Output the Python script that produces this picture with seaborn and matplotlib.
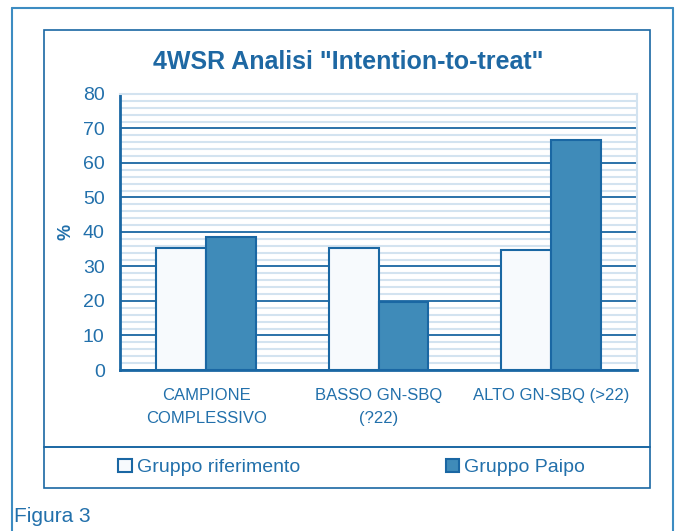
import pandas as pd
import seaborn as sns
import matplotlib.pyplot as plt
from matplotlib.patches import Rectangle
from matplotlib.lines import Line2D

# Data
categories = ["CAMPIONE\nCOMPLESSIVO", "BASSO GN-SBQ\n(?22)", "ALTO GN-SBQ (>22)"]
groups = ["Gruppo riferimento", "Gruppo Paipo"]
riferimento = [35.4, 35.4, 34.8]
paipo = [38.6, 19.7, 66.7]

df = pd.DataFrame({
    "categoria": categories * 2,
    "gruppo": [groups[0]] * 3 + [groups[1]] * 3,
    "valore": riferimento + paipo,
})

dark = "#1a67a3"
light = "#d3e3f0"
txt = "#2270ab"

sns.set_style("white")
plt.rcParams["font.family"] = ["Liberation Sans", "DejaVu Sans"]

fig = plt.figure(figsize=(6.83, 5.31), dpi=100)
ax = fig.add_axes([0.1757, 0.3032, 0.757, 0.5198])

# frame boxes around the chart
W, H = 683, 531
def fx(x): return x / W
def fy(y): return 1 - y / H
fig.add_artist(Line2D([fx(12), fx(12)], [fy(8), 0], color="#3d8cc2", lw=1.5))
fig.add_artist(Line2D([fx(673), fx(673)], [fy(8), 0], color="#3d8cc2", lw=1.5))
fig.add_artist(Line2D([fx(12), fx(673)], [fy(8), fy(8)], color="#3d8cc2", lw=1.5))
fig.add_artist(Rectangle((fx(44), fy(447)), fx(650) - fx(44), fy(30) - fy(447),
                         fill=False, ec=dark, lw=1.2))
fig.add_artist(Rectangle((fx(44), fy(488)), fx(650) - fx(44), fy(447) - fy(488),
                         fill=False, ec=dark, lw=1.2))

sns.barplot(data=df, x="categoria", y="valore", hue="gruppo",
            palette=["#f7fafd", "#3f8bb9"], saturation=1, width=0.58, gap=0,
            edgecolor=dark, linewidth=1.5, ax=ax, zorder=3)

ax.set_ylim(0, 80)
ax.set_xlim(-0.5, 2.5)
ax.set_yticks(range(0, 81, 10))
ax.set_yticks(range(0, 81, 2), minor=True)
ax.grid(axis="y", which="minor", color=light, lw=1.5, zorder=0)
ax.grid(axis="y", which="major", color=dark, lw=1.3, zorder=1)
ax.set_axisbelow(True)

ax.set_xticks([0, 1, 2])
ax.set_xticklabels(categories, fontsize=12, color=txt, linespacing=1.7)
ax.set_xticks([-0.5, 0.5, 1.5, 2.5], minor=True)
ax.tick_params(axis="x", which="major", length=0, pad=13)
ax.tick_params(axis="x", which="minor", length=5, width=1.5, color=dark, direction="out")
ax.tick_params(axis="y", which="major", labelsize=14, labelcolor=txt, length=6,
               width=1.5, color=dark, direction="out", pad=5)
ax.tick_params(axis="y", which="minor", length=0)

for s in ["left", "bottom"]:
    ax.spines[s].set_color(dark)
    ax.spines[s].set_linewidth(2)
for s in ["right", "top"]:
    ax.spines[s].set_color(light)
    ax.spines[s].set_linewidth(1.5)

ax.set_xlabel("")
ax.set_ylabel("%", fontsize=13, color=txt, fontweight="bold", labelpad=6)
fig.text(fx(348), fy(62), '4WSR Analisi "Intention-to-treat"', fontsize=18,
         fontweight="bold", color="#1e68a3", ha="center", va="center")

handles, labels = ax.get_legend_handles_labels()
ax.legend(handles, labels, loc="center", bbox_to_anchor=(0.515, fy(467.5)),
          bbox_transform=fig.transFigure, ncol=2, frameon=False,
          fontsize=14, labelcolor=txt, handlelength=0.7, handleheight=0.7,
          handletextpad=0.25, columnspacing=7.5)

fig.text(fx(14), fy(517), "Figura 3", fontsize=15, color=txt, va="center", ha="left")

fig.savefig("out.png", dpi=100)
